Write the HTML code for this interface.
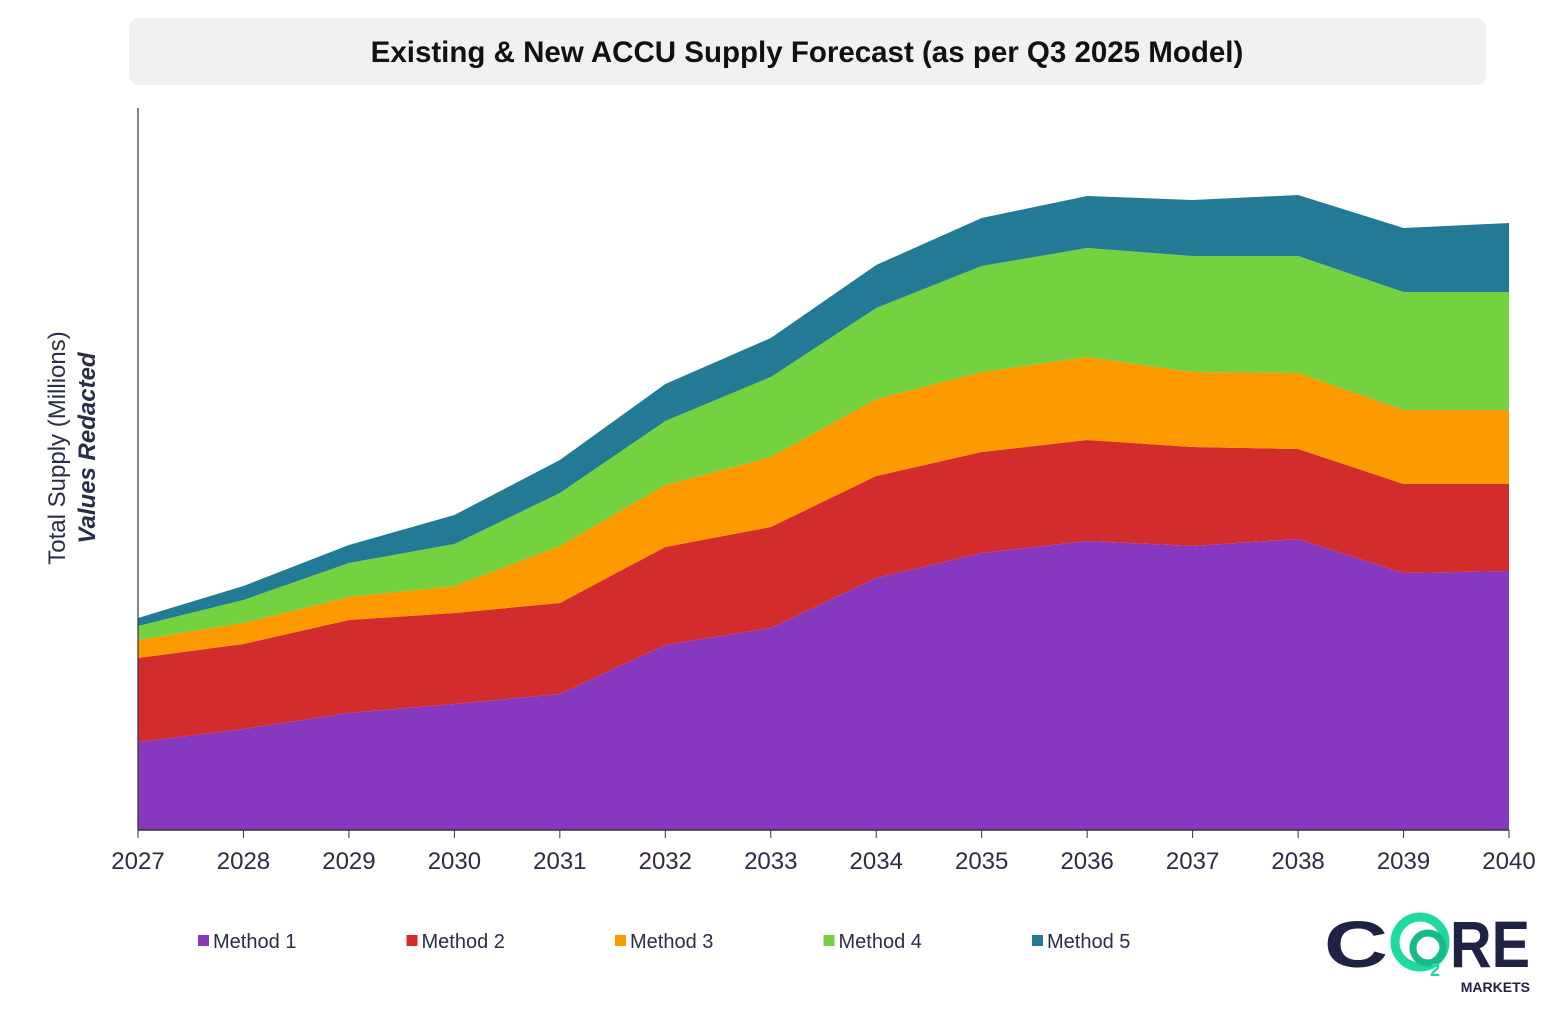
<!DOCTYPE html>
<html><head><meta charset="utf-8"><style>
body{margin:0;width:1568px;height:1024px;background:#fff;overflow:hidden;font-family:"Liberation Sans",sans-serif}
</style></head><body>
<svg id="chart" width="1568" height="1024" xmlns="http://www.w3.org/2000/svg">
<rect x="129" y="18" width="1357" height="67" rx="10" fill="#f1f1f1"/>
<text x="807" y="62" text-anchor="middle" font-size="29.5" font-weight="bold" fill="#111">Existing &amp; New ACCU Supply Forecast (as per Q3 2025 Model)</text>
<g id="areas"></g>
<line x1="138" y1="108" x2="138" y2="830" stroke="#333" stroke-width="1.2"/>
<line x1="138" y1="830" x2="1509" y2="830" stroke="#333" stroke-width="1.5"/>
<g id="ticks"></g>
<g transform="translate(65,448) rotate(-90)">
<text x="0" y="0" text-anchor="middle" font-size="24" fill="#2a2d4a">Total Supply (Millions)</text>
<text x="0" y="30" text-anchor="middle" font-size="24" font-weight="bold" font-style="italic" fill="#2a2d4a">Values Redacted</text>
</g>
<g id="legend"></g>
<g>
<text x="1324" y="967" font-size="66" font-weight="bold" fill="#1f2244" textLength="64" lengthAdjust="spacingAndGlyphs">C</text>
<circle cx="1420" cy="942" r="25" fill="none" stroke="#1ed9a0" stroke-width="9"/>
<circle cx="1428" cy="948" r="15" fill="none" stroke="#17b98a" stroke-width="7"/>
<text x="1430" y="976" font-size="18" font-weight="bold" fill="#1ed9a0">2</text>
<text x="1450" y="967" font-size="66" font-weight="bold" fill="#1f2244" textLength="80" lengthAdjust="spacingAndGlyphs">RE</text>
<text x="1530" y="992" text-anchor="end" font-size="14" font-weight="bold" fill="#1f2244">MARKETS</text>
</g>
</svg>
<script>
const years=["2027","2028","2029","2030","2031","2032","2033","2034","2035","2036","2037","2038","2039","2040"];
const seriesNames=["Method 1","Method 2","Method 3","Method 4","Method 5"];
const method1=[88,101,117,126,136,185,202,252,277,289,284,291,257,259];
const method2=[84,85,93,91,91,98,101,102,101,101,99,90,89,87];
const method3=[18,21,23,27,57,62,70,77,80,83,75,76,74,74];
const method4=[14,23,34,42,53,64,80,91,106,109,116,117,118,118];
const method5=[8,14,18,29,33,37,39,43,48,52,56,61,64,69];
const colors=["#8638bf","#d32c2c","#fd9a00","#74d13f","#237a95"];
const NS="http://www.w3.org/2000/svg";
const x0=138,x1=1509,yBase=830,yMax=722;
function xs(i){return x0+(x1-x0)*i/(years.length-1);}
function ys(v){return yBase-(v/yMax)*(yBase-108);}
const all=[method1,method2,method3,method4,method5];
const areas=document.getElementById('areas');
let cum=years.map(()=>0);
all.forEach((s,k)=>{
  const top=cum.map((c,i)=>c+s[i]);
  let d="M"+years.map((_,i)=>xs(i)+","+ys(top[i])).join(" L");
  for(let i=years.length-1;i>=0;i--) d+=" L"+xs(i)+","+ys(cum[i]);
  d+=" Z";
  const p=document.createElementNS(NS,'path');
  p.setAttribute('d',d);p.setAttribute('fill',colors[k]);
  
  
  areas.appendChild(p);
  cum=top;
});
const ticks=document.getElementById('ticks');
years.forEach((y,i)=>{
  const l=document.createElementNS(NS,'line');
  l.setAttribute('x1',xs(i));l.setAttribute('x2',xs(i));l.setAttribute('y1',830);l.setAttribute('y2',838);l.setAttribute('stroke','#333');
  
  
  ticks.appendChild(l);
  const t=document.createElementNS(NS,'text');
  t.setAttribute('x',xs(i));t.setAttribute('y',869);t.setAttribute('text-anchor','middle');t.setAttribute('font-size','24');t.setAttribute('fill','#2a2d4a');
  t.textContent=y;
  
  
  ticks.appendChild(t);
});
const legend=document.getElementById('legend');
seriesNames.forEach((n,k)=>{
  const g=document.createElementNS(NS,'g');
  
  
  const bx=198+k*208.5;
  const r=document.createElementNS(NS,'rect');
  r.setAttribute('x',bx);r.setAttribute('y',935);r.setAttribute('width',11);r.setAttribute('height',11);r.setAttribute('fill',colors[k]);
  g.appendChild(r);
  const t=document.createElementNS(NS,'text');
  t.setAttribute('x',bx+15);t.setAttribute('y',948);t.setAttribute('font-size','20');t.setAttribute('fill','#2a2d4a');
  t.textContent=n;
  g.appendChild(t);
  legend.appendChild(g);
});
</script>
</body></html>
